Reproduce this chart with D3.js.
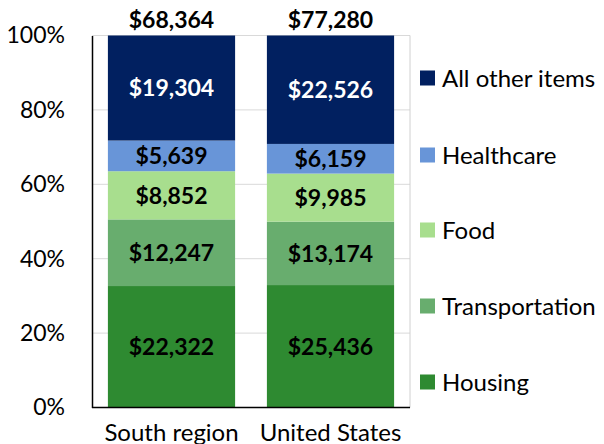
<!DOCTYPE html>
<html><head><meta charset="utf-8">
<script src="https://cdn.jsdelivr.net/npm/d3@7"></script>
<style>body{margin:0;background:#fff}svg{display:block}text{font-family:Lato,"Open Sans",sans-serif}</style>
</head><body><svg id="c" width="604" height="444"></svg>
<script>
const categories = ["South region", "United States"];
const seriesNames = ["Housing", "Transportation", "Food", "Healthcare", "All other items"];
const housing = [22322, 25436];
const transportation = [12247, 13174];
const food = [8852, 9985];
const healthcare = [5639, 6159];
const allOther = [19304, 22526];
const totals = [68364, 77280];
const yTicks = [0, 0.2, 0.4, 0.6, 0.8, 1.0];
const colors = ["#2e8a31", "#68ad6e", "#a8de8e", "#6895d8", "#012060"];
const labelColors = ["#000", "#000", "#000", "#000", "#fff"];

const seriesVals = [housing, transportation, food, healthcare, allOther];
const rows = categories.map((c, i) => {
  const r = {cat: c, total: totals[i]};
  seriesNames.forEach((s, j) => r[s] = seriesVals[j][i] / totals[i]);
  return r;
});
const stack = d3.stack().keys(seriesNames)(rows);

const svg = d3.select("#c");
const L = 92, R = 410, T = 35.5, B = 407.5;
const x = d3.scaleBand().domain(categories).range([L, R]).paddingInner(0.2).paddingOuter(0.1);
const y = d3.scaleLinear().domain([0, 1]).range([B, T]);
const fmt = v => "$" + d3.format(",")(v);
const FF = "Lato,'Open Sans',sans-serif";

// gridlines
svg.append("g").selectAll("line").data(yTicks.filter(t => t > 0)).join("line")
  .attr("x1", L).attr("x2", R).attr("y1", d => y(d)).attr("y2", d => y(d))
  .attr("stroke", "#d9d9d9").attr("stroke-width", 1);
// right border
svg.append("line").attr("x1", R).attr("x2", R).attr("y1", T).attr("y2", B).attr("stroke", "#d0d0d0");

// bars
stack.forEach((s, j) => {
  const g = svg.append("g");
  g.selectAll("rect").data(s).join("rect")
    .attr("x", d => x(d.data.cat)).attr("width", x.bandwidth())
    .attr("y", d => y(d[1])).attr("height", d => y(d[0]) - y(d[1]))
    .attr("fill", colors[j]);
  g.selectAll("text").data(s).join("text")
    .attr("x", d => x(d.data.cat) + x.bandwidth() / 2)
    .attr("y", d => (y(d[0]) + y(d[1])) / 2)
    .attr("dy", "0.36em").attr("text-anchor", "middle")
    .attr("font-size", 23).attr("font-weight", "bold").attr("fill", labelColors[j])
    .text((d, i) => fmt(seriesVals[j][i]));
});

// totals
svg.append("g").selectAll("text").data(rows).join("text")
  .attr("x", d => x(d.cat) + x.bandwidth() / 2).attr("y", 28)
  .attr("text-anchor", "middle").attr("font-size", 23).attr("font-weight", "bold").attr("fill", "#000")
  .text(d => fmt(d.total));

// y axis
const ya = svg.append("g").attr("transform", `translate(${L},0)`)
  .call(d3.axisLeft(y).tickValues(yTicks).tickFormat(d3.format(".0%")).tickSize(0).tickPadding(27));
ya.select(".domain").attr("stroke", "#000").attr("stroke-width", 1.5);
ya.selectAll("text").attr("font-size", 23).attr("fill", "#000").style("font-family", FF);

// x axis
const xa = svg.append("g").attr("transform", `translate(0,${B})`)
  .call(d3.axisBottom(x).tickSize(0).tickPadding(16));
xa.select(".domain").attr("stroke", "#000").attr("stroke-width", 1.5).attr("d", `M${L},0H${R}`);
xa.selectAll("text").attr("font-size", 24).attr("fill", "#000").style("font-family", FF);

// legend
const legY = [382, 306, 230, 155, 78];
const lg = svg.append("g").selectAll("g").data(seriesNames).join("g")
  .attr("transform", (d, i) => `translate(420,${legY[i]})`);
lg.append("rect").attr("x", 0).attr("y", -7.5).attr("width", 15).attr("height", 15).attr("fill", (d, i) => colors[i]);
lg.append("text").attr("x", 22).attr("dy", "0.36em").attr("font-size", 24).attr("fill", "#000").text(d => d);
</script></body></html>
